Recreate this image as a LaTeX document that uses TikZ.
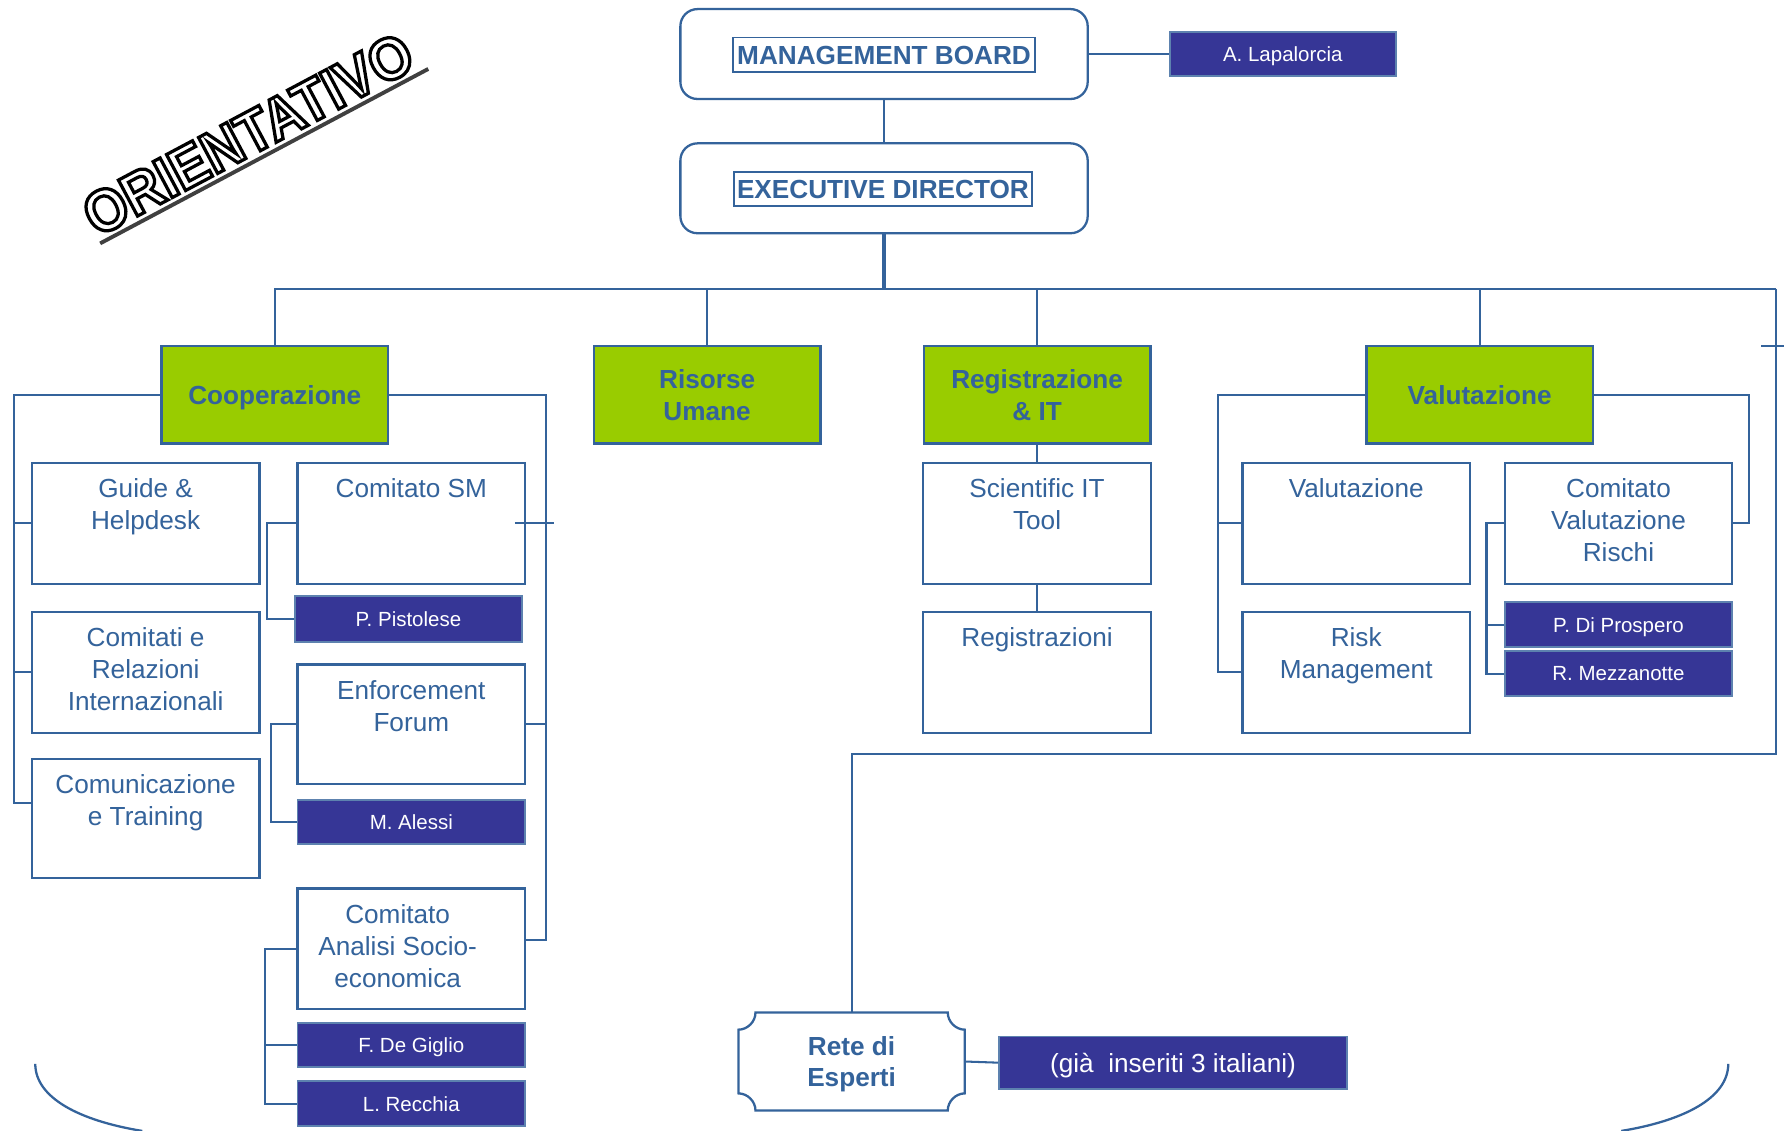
\documentclass[tikz,border=0pt]{standalone}
\usepackage{fontspec}
\setmainfont{Liberation Sans}
\newfontfamily\orfont{Liberation Sans Bold}[FakeBold=5.5, FakeStretch=0.92]
\definecolor{ublue}{RGB}{52,99,155}
\definecolor{gfill}{RGB}{153,204,0}
\definecolor{pfill}{RGB}{54,54,150}
\tikzset{
  ln/.style={draw=ublue, line width=0.9pt},
  wbox/.style={draw=ublue, line width=1pt, fill=white, minimum width=100pt, minimum height=53pt, inner sep=0pt},
  lbl/.style={anchor=north, inner sep=0pt, align=center, text=ublue, font=\fontsize{11.5pt}{14pt}\selectfont},
  gbox/.style={draw=ublue, line width=1.2pt, fill=gfill, minimum width=99.5pt, minimum height=43pt, inner sep=0pt, align=center, text=ublue, font=\fontsize{11.5pt}{14pt}\selectfont\bfseries},
  oneline/.style={text height=8.3pt, text depth=0pt},
  pbox/.style={draw=ublue!80, line width=0.8pt, fill=pfill, minimum width=100pt, minimum height=20pt, inner sep=0pt, text=white, text height=6.5pt, text depth=0pt, font=\fontsize{9pt}{11pt}\selectfont},
  topbox/.style={draw=ublue, line width=1pt, rounded corners=7.5pt, minimum width=179pt, minimum height=39.5pt, fill=white},
  tlbl/.style={draw=ublue, line width=0.8pt, inner sep=0pt, minimum width=132.5pt, minimum height=15pt, text=ublue, text height=8.3pt, text depth=0pt, font=\fontsize{11.5pt}{14pt}\selectfont\bfseries},
}
\begin{document}
\begin{tikzpicture}[x=0.5pt, y=-0.5pt]
\useasboundingbox[fill=white] (0,0) rectangle (1568,994);

% ORIENTATIVO stamp (outlined letters: white fill, black stroke)
\node[rotate=28, inner sep=1.5pt, font=\orfont\fontsize{26pt}{26pt}\selectfont, text=white] (orA) at (218,118) {\special{pdf:code 0 G}ORIENTATIVO};
\draw[line width=1.7pt, black!75] ([xshift=2pt]orA.south west) -- ([xshift=2pt]orA.south east);

% top
\node[topbox] (mb) at (777,47.5) {};
\node[tlbl] (mbl) at (777,48) {MANAGEMENT BOARD};
\node[pbox, minimum width=99.5pt, minimum height=19.5pt] (lap) at (1127.5,47.5) {A. Lapalorcia};
\node[topbox] (ed) at (777,165.5) {};
\node[tlbl, minimum width=131pt] (edl) at (776,166) {EXECUTIVE DIRECTOR};

% green heads
\node[gbox, oneline] (coop) at (241.5,347) {Cooperazione};
\node[gbox] (ris) at (621.5,347) {Risorse\\Umane};
\node[gbox] (reg) at (911.5,347) {Registrazione\\\& IT};
\node[gbox, oneline] (val) at (1300.5,347) {Valutazione};

% Cooperazione children
\node[wbox] (gh) at (128,460) {};
\node[lbl] (gh-t) at ([yshift=-7.25pt]gh.north) {Guide \&\\Helpdesk};
\node[wbox] (cri) at (128,591) {};
\node[lbl] (cri-t) at ([yshift=-7.25pt]cri.north) {Comitati e\\Relazioni\\Internazionali};
\node[wbox, minimum height=52.5pt] (ct) at (128,719.5) {};
\node[lbl] (ct-t) at ([yshift=-7.25pt]ct.north) {Comunicazione\\e Training};

\node[wbox] (csm) at (361.5,460) {};
\node[lbl] (csm-t) at ([yshift=-7.25pt]csm.north) {Comitato SM};
\node[pbox] (pist) at (359,544) {P. Pistolese};
\node[wbox, minimum height=52.5pt] (efo) at (361.5,636.5) {};
\node[lbl] (efo-t) at ([yshift=-7.25pt]efo.north) {Enforcement\\Forum};
\node[pbox, minimum height=19.5pt] (ales) at (361.5,722.5) {M. Alessi};
\node[wbox] (csa) at (361.5,834) {};
\node[lbl] (csa-t) at ([yshift=-7.25pt, xshift=-6pt]csa.north) {Comitato\\Analisi Socio-\\economica};
\node[pbox, minimum height=19.5pt] (deg) at (361.5,918.5) {F. De Giglio};
\node[pbox] (rec) at (361.5,970) {L. Recchia};

% Registrazione children
\node[wbox] (sit) at (911.5,460) {};
\node[lbl] (sit-t) at ([yshift=-7.25pt]sit.north) {Scientific IT\\Tool};
\node[wbox] (regi) at (911.5,591) {};
\node[lbl] (regi-t) at ([yshift=-7.25pt]regi.north) {Registrazioni};

% Valutazione children
\node[wbox] (valb) at (1192,460) {};
\node[lbl] (valb-t) at ([yshift=-7.25pt]valb.north) {Valutazione};
\node[wbox] (risk) at (1192,591) {};
\node[lbl] (risk-t) at ([yshift=-7.25pt]risk.north) {Risk\\Management};
\node[wbox] (cvr) at (1422.5,460) {};
\node[lbl] (cvr-t) at ([yshift=-7.25pt]cvr.north) {Comitato\\Valutazione\\Rischi};
\node[pbox] (dip) at (1422.5,549) {P. Di Prospero};
\node[pbox] (mez) at (1422.5,592) {R. Mezzanotte};

% Rete di Esperti
\node[minimum width=99.5pt, minimum height=43pt, inner sep=0pt, align=center, text=ublue, text depth=0pt, font=\fontsize{11.5pt}{14pt}\selectfont\bfseries] (rete) at (748.5,933) {Rete di\\Esperti};
\draw[ln, line width=1pt] (664,890) -- (833,890) .. controls (833,898) and (840,905) .. (848,905) -- (848,961) .. controls (840,961) and (833,968) .. (833,976) -- (664,976) .. controls (664,968) and (657,961) .. (649,961) -- (649,905) .. controls (657,905) and (664,898) .. (664,890) -- cycle;
\node[pbox, minimum width=153pt, minimum height=23pt, text height=8.3pt, font=\fontsize{11.5pt}{14pt}\selectfont] (gia) at (1031,934) {(già~ inseriti 3 italiani)};

% coordinates
\coordinate (bus) at (777,254);
\coordinate (busR) at (1561,254);
\coordinate (rc) at (1561,663);
\coordinate (tk1) at (1548,304);
\coordinate (tk2) at (1568,304);

% connectors
\draw[ln] (mb) -- (ed);
\draw[ln] (mb.east) -- (lap.west);
\draw[ln, line width=1.4pt] (ed) -- (bus);
\draw[ln] (coop.north) |- (busR);
\draw[ln] (ris.north) -- (ris.north |- bus);
\draw[ln] (reg.north) -- (reg.north |- bus);
\draw[ln] (val.north) -- (val.north |- bus);
\draw[ln] (busR) -- (rc) -| (rete.north);
\draw[ln] (tk1) -- (tk2);

\draw[ln] (coop.west) -| (12,706) -- (ct.west |- 0,706);
\draw[ln] (gh.west) -- (gh.west -| 12,0);
\draw[ln] (cri.west) -- (cri.west -| 12,0);
\draw[ln] (coop.east) -| (480,826) -- (csa.east |- 0,826);
\draw[ln] ([xshift=-5pt]csm.east) -- ([xshift=12pt]csm.east);
\draw[ln] (efo.east) -- (efo.east -| 480,0);
\draw[ln] (csm.west) -- ++(-26,0) |- (pist.west);
\draw[ln] (efo.west) -- ++(-22,0) |- (ales.west);
\draw[ln] (csa.west) -- ++(-28,0) |- (rec.west);
\draw[ln] (deg.west) -- ++(-28,0);

\draw[ln] (reg) -- (sit);
\draw[ln] (sit) -- (regi);

\draw[ln] (val.west) -- ++(-129,0) |- (risk.west);
\draw[ln] (valb.west) -- ++(-20,0);
\draw[ln] (val.east) -- ++(136,0) |- (cvr.east);
\draw[ln] (cvr.west) -- ++(-15,0) |- (mez.west);
\draw[ln] (dip.west) -- ++(-15,0);
\draw[ln] (rete.east) -- (gia.west);

% bottom arcs
\draw[ln, line width=1pt] (31,935) .. controls (31,965) and (70,985) .. (125,994);
\draw[ln, line width=1pt] (1519,935) .. controls (1519,965) and (1480,985) .. (1425,994);
\end{tikzpicture}
\end{document}
